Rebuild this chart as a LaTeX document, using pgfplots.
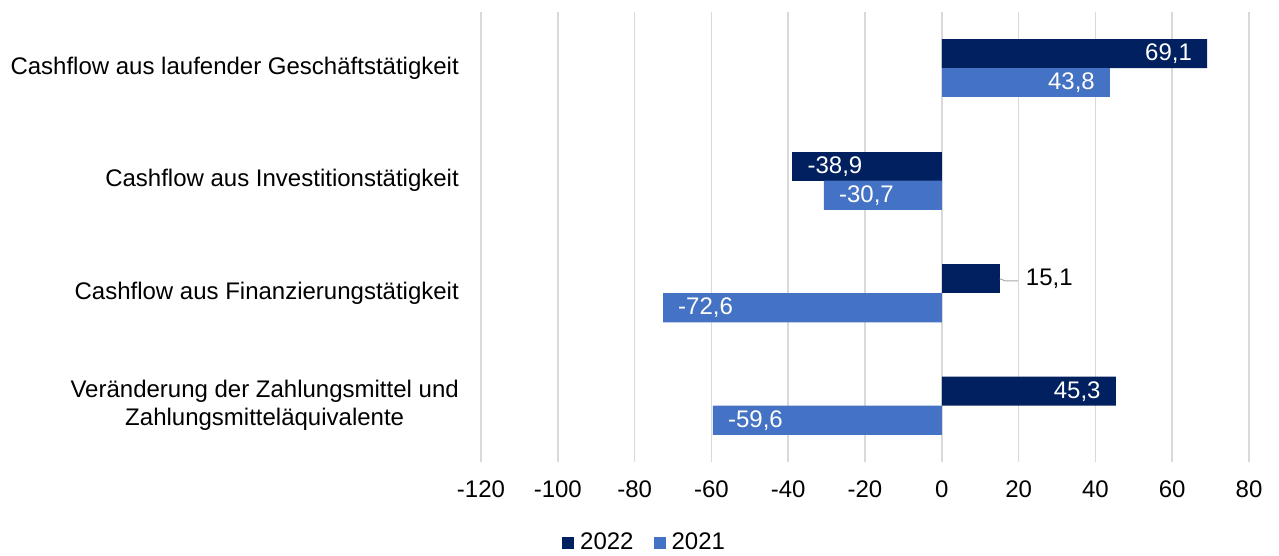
\documentclass[border=0pt]{standalone}
\usepackage{fontspec}
\setmainfont{Liberation Sans}
\usepackage{pgfplots}
\usepackage{pgfplotstable}
\pgfplotsset{compat=1.18}
\definecolor{c22}{HTML}{002060}
\definecolor{c21}{HTML}{4472C4}
\definecolor{gridc}{HTML}{D9D9D9}
% 2022
\pgfplotstableread{
y x
3 69.1
0 45.3
}\dataApos
\pgfplotstableread{
y x
2 -38.9
}\dataAneg
\pgfplotstableread{
y x
1 15.1
}\dataAout
% 2021
\pgfplotstableread{
y x
3 43.8
}\dataBpos
\pgfplotstableread{
y x
2 -30.7
1 -72.6
0 -59.6
}\dataBneg
\pgfplotsset{
  lbl/.style={
    point meta=x,
    nodes near coords={\pgfmathprintnumber[fixed,fixed zerofill,precision=1,use comma]{\pgfplotspointmeta}},
    every node near coord/.append style={inner sep=0pt, font=\fontsize{24}{28}\selectfont, #1},
  },
  inpos/.style={lbl={anchor=east, xshift=-15pt, text=white}},
  inneg/.style={lbl={anchor=west, xshift=15pt, text=white}},
  outpos/.style={lbl={anchor=west, xshift=26pt, text=black}},
}
\begin{document}
\fontsize{24}{28}\selectfont
\begin{tikzpicture}[font=\fontsize{24}{28}\selectfont]
\useasboundingbox (0,0) rectangle (1279pt,556pt);
\begin{axis}[
  at={(481pt,94pt)}, anchor=south west,
  width=768pt, height=450pt, scale only axis,
  xmin=-120, xmax=80, ymin=-0.5, ymax=3.5,
  xtick={-120,-100,...,80},
  ytick={0,1,2,3},
  yticklabels={{Veränderung der Zahlungsmittel und\\Zahlungsmitteläquivalente},
    Cashflow aus Finanzierungstätigkeit,
    Cashflow aus Investitionstätigkeit,
    Cashflow aus laufender Geschäftstätigkeit},
  yticklabel style={align=center, inner sep=0pt, xshift=-22pt},
  xticklabel style={inner sep=0pt, yshift=-19pt},
  /pgf/number format/assume math mode=true,
  xmajorgrids, grid style={line width=1.5pt, gridc},
  axis line style={draw=none},
  major tick length=0pt,
  xbar, bar width=0.258,
  legend style={at={(axis description cs:0.213,-0.18)}, anchor=center, draw=none,
    legend columns=2, font=\fontsize{24}{28}\selectfont,
    /tikz/every odd column/.append style={column sep=4pt},
    /tikz/every even column/.append style={column sep=18pt}},
  legend image code/.code={\fill[#1] (0pt,-6pt) rectangle (12pt,6pt);},
]
\addplot[fill=c22, draw=none, bar shift=0.129, inpos] table[x=x,y=y] {\dataApos};
\addlegendentry{2022}
\addplot[fill=c21, draw=none, bar shift=-0.129, inpos] table[x=x,y=y] {\dataBpos};
\addlegendentry{2021}
\addplot[fill=c22, draw=none, bar shift=0.129, inneg, forget plot] table[x=x,y=y] {\dataAneg};
\addplot[fill=c22, draw=none, bar shift=0.129, outpos, forget plot] table[x=x,y=y] {\dataAout};
\addplot[fill=c21, draw=none, bar shift=-0.129, inneg, forget plot] table[x=x,y=y] {\dataBneg};
\draw[gray!70, line width=1pt] (axis cs:15.1,1.129) -- (axis cs:16.5,1.11) -- (axis cs:19.8,1.11);
\end{axis}
\end{tikzpicture}
\end{document}
